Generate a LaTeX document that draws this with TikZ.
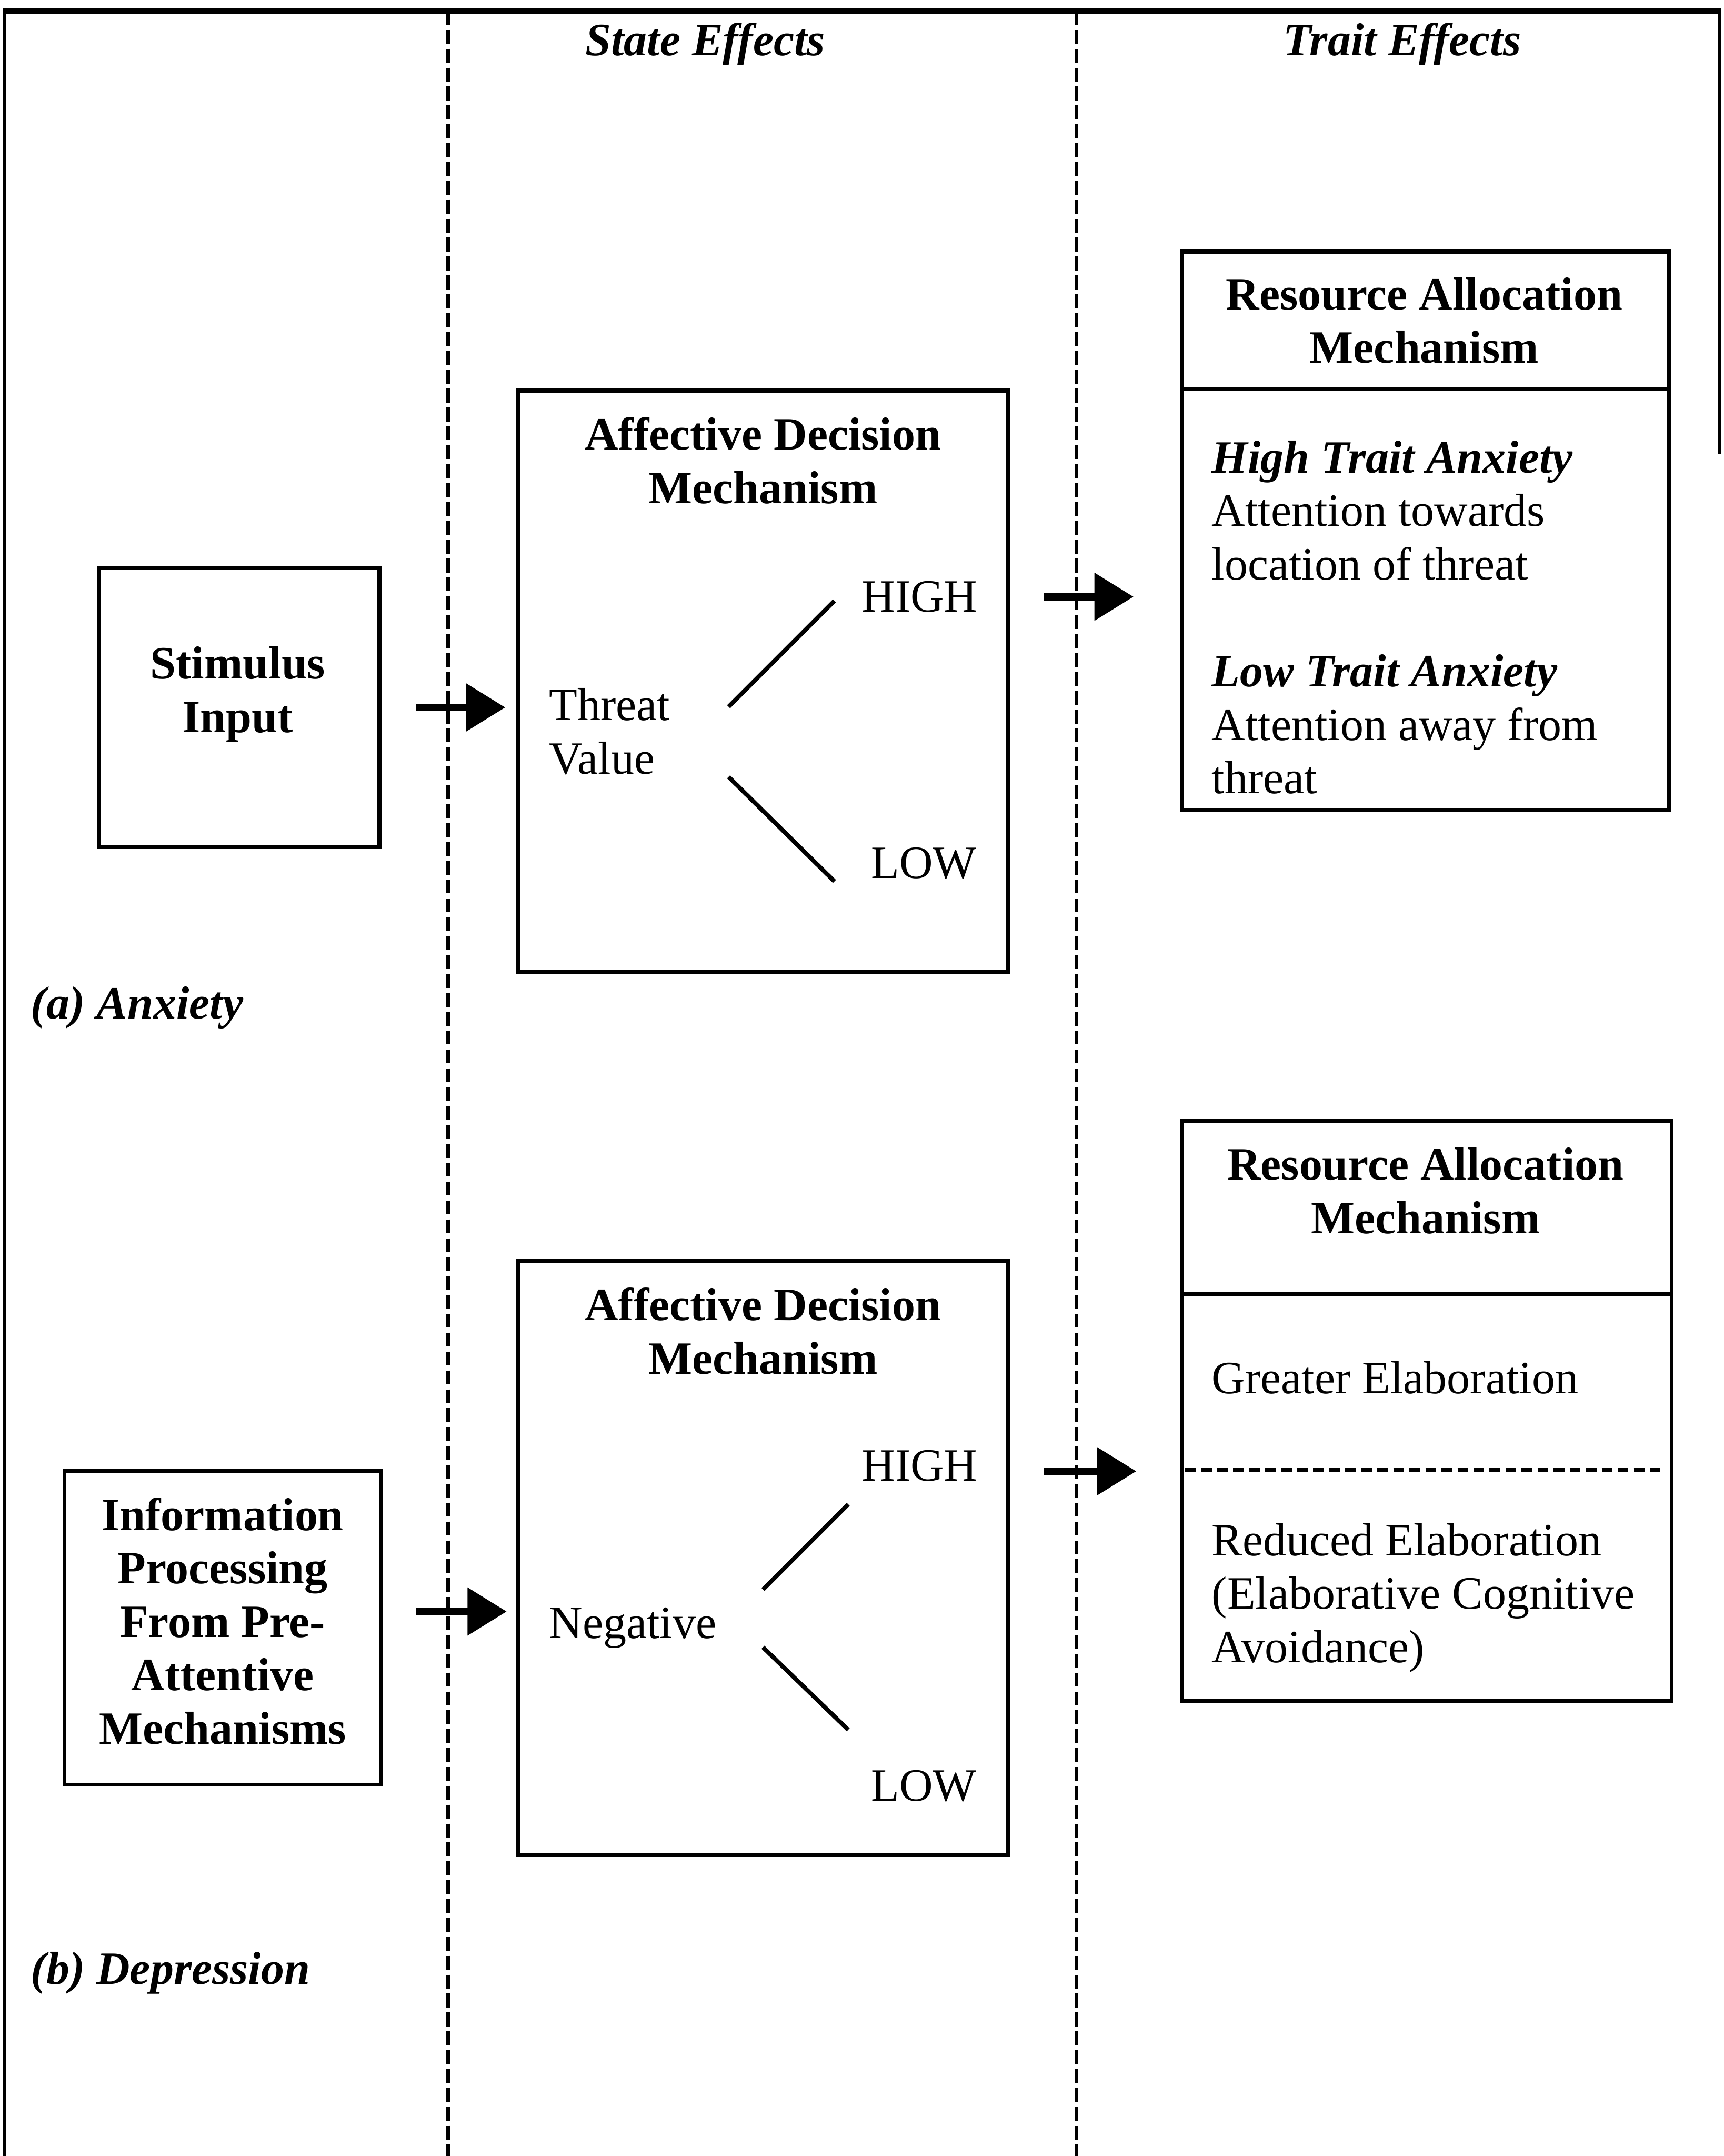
\documentclass[tikz,border=0pt]{standalone}
\usepackage{fontspec}
\setmainfont{Liberation Serif}
\usetikzlibrary{arrows.meta}

\newcommand{\pxu}{0.01357cm}
\newcommand{\txtsize}{\fontsize{13}{15}\selectfont}

\tikzset{
  box/.style={draw, line width=1.1pt, inner sep=0pt},
  title/.style={font=\txtsize\bfseries, align=center},
  body/.style={anchor=west, align=left, inner sep=0pt},
  bigarrow/.style={line width=2pt, -{Triangle[length=11pt,width=13pt]}},
  branch/.style={line width=1.2pt},
  column/.style={line width=1.1pt, dash pattern=on 3.9pt off 1.4pt},
}

\begin{document}
\begin{tikzpicture}[x=\pxu, y=-\pxu, font=\txtsize]
\useasboundingbox (0,0) rectangle (1254,1568);

% frame and columns
\draw[line width=1.4pt] (2,8) -- (1252,8);
\draw[line width=0.9pt] (3,8) -- (3,1568);
\draw[line width=0.9pt] (1251,8) -- (1251,330);
\draw[column] (326,8) -- (326,1568);
\draw[column] (783,8) -- (783,1568);

\node[title] (statehd) at (513,32) {\itshape State Effects};
\node[title] (traithd) at (1020,32) {\itshape Trait Effects};

% (a) anxiety
\node[box, minimum width=204*\pxu, minimum height=203*\pxu] (stim) at (174,514.5) {};
\node[title] (stimtxt) at (173,505) {Stimulus\\Input};

\node[box, minimum width=356*\pxu, minimum height=423*\pxu] (adma) at (555,495.5) {};
\node[title] (admatxt) at (555,335) {Affective Decision\\Mechanism};
\node (higha) at (669,434) {HIGH};
\node (lowa) at (672,628) {LOW};
\node[body] (threat) at (399,532) {Threat\\Value};
\coordinate (ha0) at (530,514);
\coordinate (ha1) at (607,437);
\coordinate (la0) at (530,565);
\coordinate (la1) at (607,641);
\draw[branch] (ha0) -- (ha1);
\draw[branch] (la0) -- (la1);

\node[box, minimum width=354*\pxu, minimum height=406*\pxu] (rama) at (1037,386) {};
\draw[line width=1.1pt] (rama.west |- 0,283) -- (rama.east |- 0,283);
\node[title] (ramatxt) at (1036,233) {Resource Allocation\\Mechanism};
\node[body] (traits) at (881,449) {\textbf{\textit{High Trait Anxiety}}\\Attention towards\\location of threat\\[15pt]
  \textbf{\textit{Low Trait Anxiety}}\\Attention away from\\threat};

\node[body] (anxlbl) at (22,733) {\textbf{\textit{(a) Anxiety}}};

\draw[bigarrow, shorten <=25*\pxu, shorten >=8*\pxu] (stim.east) -- (adma.west |- stim.east);
\draw[bigarrow, shorten <=25*\pxu, shorten >=34*\pxu] (higha -| adma.east) -- (higha -| rama.west);

% (b) depression
\node[box, minimum width=230*\pxu, minimum height=228*\pxu] (info) at (162,1184) {};
\node[title] (infotxt) at (162,1179) {Information\\Processing\\From Pre-\\Attentive\\Mechanisms};

\node[box, minimum width=356*\pxu, minimum height=432*\pxu] (admb) at (555,1133) {};
\node[title] (admbtxt) at (555,968) {Affective Decision\\Mechanism};
\node (highb) at (669,1066) {HIGH};
\node (lowb) at (672,1299) {LOW};
\node[body] (negative) at (399,1184) {Negative};
\coordinate (hb0) at (555,1156);
\coordinate (hb1) at (617,1094);
\coordinate (lb0) at (555,1198);
\coordinate (lb1) at (617,1258);
\draw[branch] (hb0) -- (hb1);
\draw[branch] (lb0) -- (lb1);

\node[box, minimum width=356*\pxu, minimum height=422*\pxu] (ramb) at (1038,1026) {};
\draw[line width=1.1pt] (ramb.west |- 0,941) -- (ramb.east |- 0,941);
\draw[line width=1pt, dash pattern=on 3pt off 1.5pt] (862,1069) -- (1212,1069);
\node[title] (rambtxt) at (1037,866) {Resource Allocation\\Mechanism};
\node[body] (greater) at (881,1002) {Greater Elaboration};
\node[body] (reduced) at (881,1162) {Reduced Elaboration\\(Elaborative Cognitive\\Avoidance)};

\node[body] (deplbl) at (22,1435) {\textbf{\textit{(b) Depression}}};

\draw[bigarrow, shorten <=24*\pxu, shorten >=7*\pxu] ([yshift=12*\pxu]info.east) -- ([yshift=12*\pxu]info.east -| admb.west);
\draw[bigarrow, shorten <=25*\pxu, shorten >=32*\pxu] ([yshift=-4*\pxu]highb -| admb.east) -- ([yshift=-4*\pxu]highb -| ramb.west);
\end{tikzpicture}
\end{document}
